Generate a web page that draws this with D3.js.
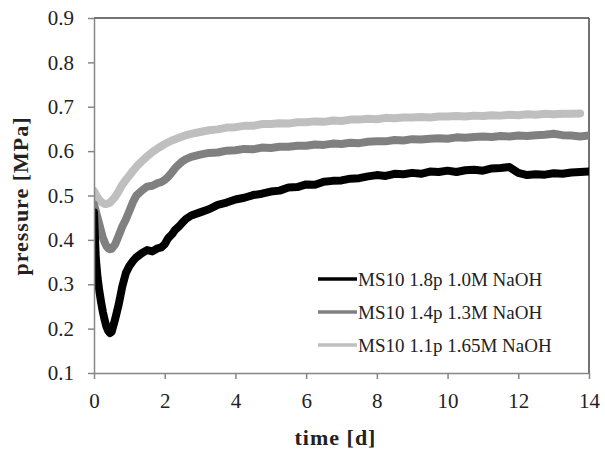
<!DOCTYPE html>
<html>
<head>
<meta charset="utf-8">
<script src="https://cdn.jsdelivr.net/npm/d3@7"></script>
<style>
  body { margin: 0; background: #fff; }
  text { font-family: "Liberation Serif", "Times New Roman", serif; fill: #222; }
</style>
</head>
<body>
<div id="chart"></div>
<script>
const width = 605
const height = 457
const margin = { top: 18, left: 94, right: 16, bottom: 84 }

// data
const days = [0, 0.05, 0.1, 0.15, 0.2, 0.25, 0.3, 0.35, 0.4, 0.45, 0.5, 0.6, 0.7, 0.8, 0.9, 1.0, 1.1, 1.2, 1.35, 1.5, 1.65, 1.8, 1.9, 2.0, 2.1, 2.2, 2.3, 2.4, 2.5, 2.6, 2.75,
  3.0, 3.25, 3.5, 3.75, 4.0, 4.25, 4.5, 4.75, 5.0, 5.25, 5.5, 5.75, 6.0, 6.25, 6.5, 6.75, 7.0, 7.25, 7.5, 7.75, 8.0, 8.25, 8.5, 8.75,
  9.0, 9.25, 9.5, 9.75, 10.0, 10.25, 10.5, 10.75, 11.0, 11.25, 11.5, 11.75, 12.0, 12.25, 12.5, 12.75, 13.0, 13.25, 13.5, 13.75, 14.0]

const p18 = [0.462, 0.36, 0.315, 0.285, 0.26, 0.238, 0.22, 0.205, 0.195, 0.19, 0.193, 0.222, 0.255, 0.295, 0.325, 0.341, 0.352, 0.361, 0.37, 0.377, 0.374, 0.381, 0.383, 0.39, 0.404, 0.412, 0.423, 0.43, 0.439, 0.447, 0.455,
  0.462, 0.469, 0.479, 0.484, 0.491, 0.495, 0.501, 0.504, 0.509, 0.511, 0.518, 0.519, 0.525, 0.524, 0.531, 0.533, 0.534, 0.538, 0.539, 0.543, 0.546, 0.544, 0.549, 0.548,
  0.551, 0.549, 0.554, 0.553, 0.556, 0.553, 0.557, 0.558, 0.556, 0.561, 0.562, 0.564, 0.551, 0.546, 0.548, 0.547, 0.550, 0.549, 0.552, 0.553, 0.554]

const p14 = [0.48, 0.465, 0.45, 0.435, 0.42, 0.405, 0.395, 0.386, 0.381, 0.379, 0.38, 0.39, 0.41, 0.43, 0.446, 0.465, 0.485, 0.5, 0.511, 0.52, 0.522, 0.528, 0.53, 0.535, 0.542, 0.552, 0.562, 0.57, 0.577, 0.582, 0.587,
  0.592, 0.596, 0.597, 0.601, 0.602, 0.605, 0.604, 0.608, 0.607, 0.61, 0.61, 0.612, 0.612, 0.615, 0.614, 0.617, 0.616, 0.619, 0.618, 0.621, 0.622, 0.622, 0.625, 0.624,
  0.627, 0.626, 0.628, 0.629, 0.628, 0.631, 0.63, 0.632, 0.633, 0.632, 0.634, 0.633, 0.635, 0.634, 0.636, 0.637, 0.639, 0.636, 0.635, 0.633, 0.635]

const p11 = [0.51, 0.503, 0.496, 0.49, 0.486, 0.483, 0.481, 0.481, 0.482, 0.484, 0.488, 0.497, 0.51, 0.524, 0.535, 0.545, 0.555, 0.565, 0.577, 0.588, 0.598, 0.606, 0.611, 0.616, 0.62, 0.624, 0.627, 0.63, 0.633, 0.636, 0.639,
  0.643, 0.647, 0.649, 0.653, 0.654, 0.657, 0.657, 0.661, 0.661, 0.663, 0.662, 0.665, 0.665, 0.667, 0.666, 0.669, 0.668, 0.671, 0.671, 0.673, 0.672, 0.675, 0.674, 0.676,
  0.676, 0.677, 0.676, 0.678, 0.678, 0.679, 0.678, 0.680, 0.679, 0.681, 0.680, 0.682, 0.681, 0.683, 0.682, 0.684, 0.683, 0.684, 0.684, 0.685, null]

const seriesNames = ["MS10 1.8p 1.0M NaOH", "MS10 1.4p 1.3M NaOH", "MS10 1.1p 1.65M NaOH"]
const seriesColors = ["#000000", "#808080", "#bfbfbf"]
const seriesValues = [p18, p14, p11]

const xTicks = [0, 2, 4, 6, 8, 10, 12, 14]
const yTicks = [0.1, 0.2, 0.3, 0.4, 0.5, 0.6, 0.7, 0.8, 0.9]

const innerW = width - margin.left - margin.right
const innerH = height - margin.top - margin.bottom

const svg = d3.select("#chart").append("svg").attr("width", width).attr("height", height)

const x = d3.scaleLinear().domain([0, 14]).range([0, innerW])
const y = d3.scaleLinear().domain([0.1, 0.9]).range([innerH, 0])

const g = svg.append("g").attr("transform", `translate(${margin.left},${margin.top})`)

svg.append("defs").append("clipPath").attr("id", "plotclip")
  .append("rect").attr("x", 0).attr("y", -6).attr("width", innerW).attr("height", innerH + 6)

// frame: top and right are darker, axes are lighter gray
g.append("line").attr("x1", 0).attr("x2", innerW).attr("y1", 0).attr("y2", 0)
  .attr("stroke", "#444").attr("stroke-width", 1.5)
g.append("line").attr("x1", innerW).attr("x2", innerW).attr("y1", 0).attr("y2", innerH)
  .attr("stroke", "#444").attr("stroke-width", 1.5)

// lines
const line = d3.line()
  .defined(d => d[1] != null)
  .x(d => x(d[0]))
  .y(d => y(d[1]))

const lineGroup = g.append("g").attr("clip-path", "url(#plotclip)")
for (let i = seriesValues.length - 1; i >= 0; i--) {
  const pts = days.map((t, k) => [t, seriesValues[i][k]])
  lineGroup.append("path")
    .datum(pts)
    .attr("d", line)
    .attr("fill", "none")
    .attr("stroke", seriesColors[i])
    .attr("stroke-width", 8)
    .attr("stroke-linejoin", "round")
    .attr("stroke-linecap", "round")
}

// axes
const xAxis = d3.axisBottom(x).tickValues(xTicks).tickSize(6).tickSizeOuter(0).tickFormat(d3.format("d"))
const yAxis = d3.axisLeft(y).tickValues(yTicks).tickSize(6).tickSizeOuter(0).tickFormat(d3.format(".1f"))

const xAxisGroup = g.append("g").attr("transform", `translate(0,${innerH})`).call(xAxis)
const yAxisGroup = g.append("g").call(yAxis)

for (const ag of [xAxisGroup, yAxisGroup]) {
  ag.select(".domain").attr("stroke", "#868686").attr("stroke-width", 1.5)
  ag.selectAll(".tick line").attr("stroke", "#868686").attr("stroke-width", 1.5)
  ag.selectAll(".tick text")
    .style("font-family", "'Liberation Serif', serif")
    .style("font-size", "21px")
    .style("fill", "#222")
}
xAxisGroup.selectAll(".tick text").attr("dy", "1.0em").attr("y", 14)
yAxisGroup.selectAll(".tick text").attr("x", -20)

// axis titles
svg.append("text")
  .attr("x", margin.left + x(7) - 6)
  .attr("y", 445)
  .attr("text-anchor", "middle")
  .attr("font-size", 22)
  .attr("font-weight", "bold")
  .attr("letter-spacing", 1)
  .text("time [d]")

svg.append("text")
  .attr("transform", `translate(28,196) rotate(-90)`)
  .attr("text-anchor", "middle")
  .attr("font-size", 22)
  .attr("font-weight", "bold")
  .attr("letter-spacing", 1)
  .text("pressure [MPa]")

// legend
const legend = svg.append("g").attr("transform", "translate(318,279)")
seriesNames.forEach((name, i) => {
  const row = legend.append("g").attr("transform", `translate(0,${i * 33})`)
  row.append("line").attr("x1", 0).attr("x2", 39).attr("y1", 0).attr("y2", 0)
    .attr("stroke", seriesColors[i]).attr("stroke-width", 3.5)
  row.append("text").attr("x", 40).attr("y", 0).attr("dy", "0.35em")
    .attr("font-size", 19)
    .text(name)
})
</script>
</body>
</html>
